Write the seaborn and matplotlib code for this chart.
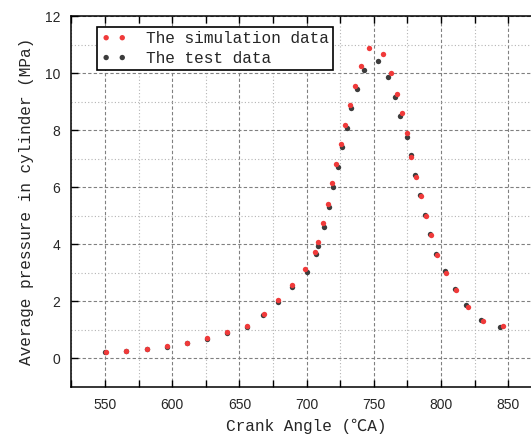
import numpy as np
import pandas as pd
import seaborn as sns
import matplotlib.pyplot as plt
from matplotlib.ticker import MultipleLocator

# simulation data (red)
sim_angle = [550.5, 565.7, 581.1, 596.0, 610.9, 626.0, 640.9, 655.8, 668.2, 678.8,
             688.9, 698.5, 706.0, 708.1, 712.4, 715.6, 719.2, 722.0, 725.5, 728.5,
             732.3, 735.6, 740.1, 746.7, 756.8, 762.9, 767.2, 770.7, 774.5, 778.0,
             781.5, 785.1, 788.6, 792.7, 797.2, 803.5, 810.8, 820.2, 831.0, 845.9]
sim_pressure = [0.23, 0.27, 0.34, 0.42, 0.55, 0.71, 0.91, 1.13, 1.54, 2.03,
                2.57, 3.13, 3.72, 4.06, 4.76, 5.42, 6.13, 6.82, 7.50, 8.18,
                8.88, 9.56, 10.26, 10.89, 10.66, 9.99, 9.28, 8.61, 7.91, 7.07,
                6.37, 5.70, 5.00, 4.32, 3.61, 2.99, 2.38, 1.80, 1.32, 1.13]

# test data (dark grey)
test_angle = [550.3, 565.5, 581.0, 596.0, 610.8, 626.0, 641.0, 655.8, 667.6, 678.8,
              689.4, 700.0, 706.6, 708.7, 713.2, 716.7, 719.9, 723.2, 726.5, 730.0,
              733.3, 737.5, 742.8, 753.2, 760.6, 765.4, 769.6, 774.5, 777.5, 780.8,
              784.3, 787.9, 791.9, 796.5, 802.6, 810.3, 818.9, 829.8, 843.5]
test_pressure = [0.22, 0.26, 0.32, 0.40, 0.52, 0.69, 0.89, 1.10, 1.52, 1.98,
                 2.51, 3.03, 3.65, 3.93, 4.61, 5.31, 6.02, 6.71, 7.39, 8.07,
                 8.76, 9.44, 10.12, 10.43, 9.85, 9.16, 8.48, 7.77, 7.11, 6.41,
                 5.74, 5.03, 4.35, 3.66, 3.05, 2.43, 1.85, 1.34, 1.08]

df_sim = pd.DataFrame({'angle': sim_angle, 'p': sim_pressure})
df_test = pd.DataFrame({'angle': test_angle, 'p': test_pressure})

sns.set_theme(style='ticks')
plt.rcParams['font.family'] = ['Liberation Mono', 'Noto Sans CJK SC', 'DejaVu Sans']

fig = plt.figure(figsize=(5.31, 4.34), dpi=100)
ax = fig.add_axes([0.1345, 0.1088, 0.886, 0.8543])

sns.scatterplot(data=df_test, x='angle', y='p', ax=ax, color='#3c3c3c', s=15,
                marker='o', linewidth=0, label='The test data', zorder=3)
sns.scatterplot(data=df_sim, x='angle', y='p', ax=ax, color='#f03a3a', s=15,
                marker='o', linewidth=0, label='The simulation data', zorder=4)

ax.set_xlim(525, 875)
ax.set_ylim(-1, 12)
ax.xaxis.set_major_locator(MultipleLocator(50))
ax.xaxis.set_minor_locator(MultipleLocator(25))
ax.yaxis.set_major_locator(MultipleLocator(2))
ax.yaxis.set_minor_locator(MultipleLocator(1))

ax.set_axisbelow(True)
ax.grid(which='major', linestyle=(0, (3, 2)), color='#808080', linewidth=0.8)
ax.grid(which='minor', linestyle=(0, (1, 2)), color='#b4b4b4', linewidth=0.8)

ax.tick_params(which='both', direction='in', top=True, length=5, width=1, color='black')
ax.tick_params(which='minor', left=False)
for lab in ax.get_xticklabels() + ax.get_yticklabels():
    lab.set_family('Liberation Sans')
    lab.set_fontsize(10)
ax.tick_params(axis='x', pad=8)
ax.tick_params(axis='y', pad=8)

for sp in ax.spines.values():
    sp.set_color('black')
    sp.set_linewidth(1.1)

ax.set_xlabel('Crank Angle (℃A)', fontsize=11.6, labelpad=5)
ax.set_ylabel('Average pressure in cylinder (MPa)', fontsize=11.6, labelpad=8)

handles, labels = ax.get_legend_handles_labels()
leg = ax.legend(handles[::-1], labels[::-1], loc='upper left',
                bbox_to_anchor=(0.055, 0.9695), borderaxespad=0,
                fontsize=11.6, scatterpoints=2, scatteryoffsets=[0.5],
                handlelength=1.6, handletextpad=1.2, labelspacing=0.3,
                borderpad=0.25, fancybox=False, framealpha=1, edgecolor='black')
leg.get_frame().set_linewidth(1.2)

plt.savefig('out.png', dpi=100)
